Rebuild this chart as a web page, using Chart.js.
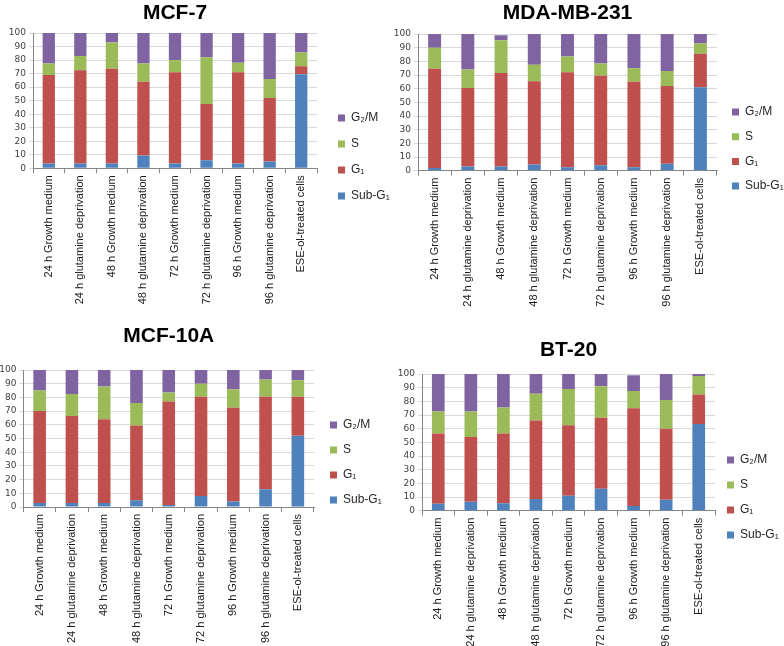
<!DOCTYPE html>
<html>
<head>
<meta charset="utf-8">
<script src="https://cdn.jsdelivr.net/npm/chart.js@4.4.1/dist/chart.umd.min.js"></script>
<style>
  body { margin: 0; background: #fff; width: 784px; height: 646px; position: relative; overflow: hidden; }
  .panel { position: absolute; }
</style>
</head>
<body>
<div class="panel" style="left:0px;top:0px;width:392px;height:310px"><canvas id="mcf7"></canvas></div>
<div class="panel" style="left:380px;top:0px;width:404px;height:310px"><canvas id="mda"></canvas></div>
<div class="panel" style="left:0px;top:320px;width:392px;height:326px"><canvas id="mcf10a"></canvas></div>
<div class="panel" style="left:380px;top:320px;width:404px;height:326px"><canvas id="bt20"></canvas></div>
<script>
// categories shared by all four panels
const categories = [
  '24 h Growth medium', '24 h glutamine deprivation',
  '48 h Growth medium', '48 h glutamine deprivation',
  '72 h Growth medium', '72 h glutamine deprivation',
  '96 h Growth medium', '96 h glutamine deprivation',
  'ESE-ol-treated cells'
];
const phaseNames = ['Sub-G₁', 'G₁', 'S', 'G₂/M'];
const phaseColors = ['#4F81BD', '#C0504D', '#9BBB59', '#8064A2'];
const yMin = 0, yMax = 100, yStep = 10;

// MCF-7 (% of cells)
const mcf7SubG1 = [3.5, 3.5, 3.5, 9.5, 3.5, 6, 3.5, 5, 69.5];
const mcf7G1    = [65.5, 69, 70, 54.5, 67.5, 41.5, 67.5, 47, 6];
const mcf7S     = [8.5, 10.5, 19.5, 13.5, 9, 34.5, 7, 14, 10];
const mcf7G2M   = [22.5, 17, 7, 22.5, 20, 18, 22, 34, 14.5];

// MDA-MB-231
const mdaSubG1 = [2, 3, 3, 4.5, 2.5, 4, 2.5, 5, 61];
const mdaG1    = [72.5, 57.5, 68.5, 61, 69.5, 65.5, 62.5, 57, 24.5];
const mdaS     = [15.5, 13.5, 24, 12, 11.5, 9, 10, 11, 7.5];
const mdaG2M   = [10, 26, 3.5, 22.5, 16.5, 21.5, 25, 27, 7];

// MCF-10A
const mcf10aSubG1 = [3, 3, 3, 5, 1.5, 8, 4, 13, 52];
const mcf10aG1    = [67, 63.5, 61, 54.5, 75.5, 72.5, 68.5, 67.5, 28.5];
const mcf10aS     = [15, 16, 24, 16.5, 6.5, 9.5, 13.5, 12.5, 12];
const mcf10aG2M   = [15, 17.5, 12, 24, 16.5, 10, 14, 7, 7.5];

// BT-20
const bt20SubG1 = [5, 6.5, 5.5, 8.5, 11, 16, 3.5, 8, 63.5];
const bt20G1    = [51.5, 47.5, 51, 57.5, 51.5, 52, 71.5, 52, 21.5];
const bt20S     = [16, 18.5, 19, 19.5, 26.5, 23, 12.5, 21, 13.5];
const bt20G2M   = [27.5, 27.5, 24.5, 14.5, 11, 9, 11.5, 19, 1.5];

// moves the legend block to a fixed spot beside the plot
const legendPlace = {
  id: 'legendPlace',
  afterLayout(chart, args, opts) {
    const lg = chart.legend;
    if (!lg) return;
    const pad = chart.options.plugins.legend.labels.padding;
    lg.left = opts.x - pad;
    lg.right = lg.left + 120;   // wide enough so the legend clip keeps the text
    lg.top = opts.y - pad;
    lg.bottom = lg.top + 220;
  }
};

function makePanel(id, title, series, lay) {
  new Chart(id, {
    type: 'bar',
    data: {
      labels: categories,
      datasets: series.map((vals, i) => ({
        label: phaseNames[i],
        data: vals,
        backgroundColor: phaseColors[i],
        borderWidth: 0,
        barPercentage: 0.39,
        categoryPercentage: 1
      }))
    },
    options: {
      responsive: true,
      maintainAspectRatio: false,
      animation: false,
      layout: { padding: { right: lay.pr || 0 } },
      scales: {
        x: {
          stacked: true,
          grid: { display: true, drawOnChartArea: false, offset: true, color: '#868686', tickLength: 5 },
          border: { color: '#868686' },
          ticks: { autoSkip: false, maxRotation: 90, minRotation: 90, padding: 2,
                   color: '#1a1a1a', font: { family: 'Liberation Sans, Arial, sans-serif', size: 11 } },
          afterFit: s => { s.height = lay.xh; }
        },
        y: {
          stacked: true,
          min: yMin, max: yMax,
          grid: { color: '#d9d9d9', tickLength: 4 },
          border: { color: '#868686' },
          ticks: { stepSize: yStep, autoSkip: false, padding: 3, color: '#404040',
                   font: { family: 'DejaVu Sans, Verdana, sans-serif', size: 9 } },
          afterFit: s => { s.width = lay.yw; }
        }
      },
      plugins: {
        title: {
          display: true, text: title, fullSize: false,
          color: '#000',
          font: { family: 'Liberation Sans, Arial, sans-serif', size: 21, weight: 'bold' },
          padding: { top: lay.tt, bottom: lay.tb }
        },
        legend: {
          position: 'right', align: 'start', reverse: true, maxWidth: lay.lw,
          labels: { boxWidth: 7, boxHeight: 7, padding: lay.lp, color: '#262626',
                    font: { family: 'Liberation Sans, Arial, sans-serif', size: 12 } }
        },
        tooltip: { enabled: false },
        legendPlace: { x: lay.lx, y: lay.ly }
      }
    },
    plugins: [legendPlace]
  });
}

makePanel('mcf7', 'MCF-7', [mcf7SubG1, mcf7G1, mcf7S, mcf7G2M],
  { yw: 33, xh: 141.7, tt: 1, tb: 6.8, lw: 63, pr: 12, lp: 14, lx: 338, ly: 112 });
makePanel('mda', 'MDA-MB-231', [mdaSubG1, mdaG1, mdaS, mdaG2M],
  { yw: 38, xh: 139.3, tt: 1, tb: 7.8, lw: 67, lp: 12.7, lx: 352, ly: 106 });
makePanel('mcf10a', 'MCF-10A', [mcf10aSubG1, mcf10aG1, mcf10aS, mcf10aG2M],
  { yw: 23.5, xh: 139, tt: 4, tb: 20.8, lw: 66, pr: 12, lp: 13, lx: 330, ly: 99 });
makePanel('bt20', 'BT-20', [bt20SubG1, bt20G1, bt20S, bt20G2M],
  { yw: 42, xh: 135.3, tt: 18, tb: 10.8, lw: 69, lp: 13, lx: 347, ly: 134 });
</script>
</body>
</html>
